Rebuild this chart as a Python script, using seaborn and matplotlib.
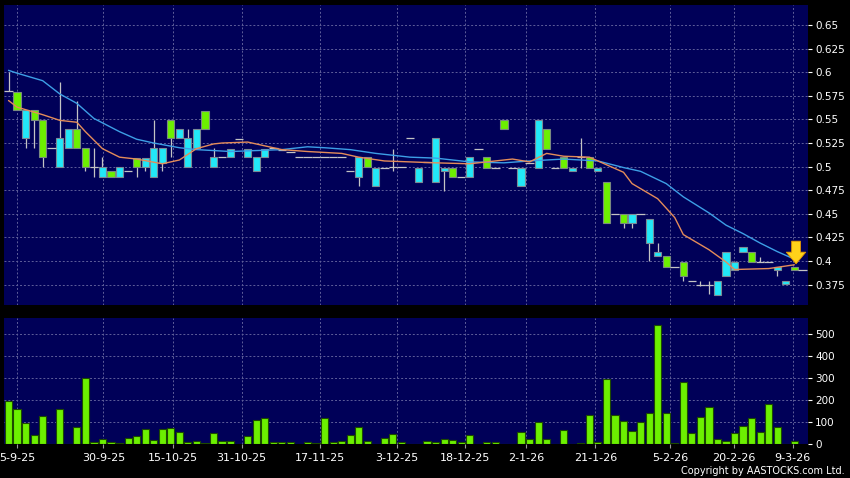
import numpy as np
import pandas as pd
import matplotlib
matplotlib.use("Agg")
import matplotlib.pyplot as plt
import seaborn as sns

# ========== Datos ==========

# precios diarios (slot = posicion en el eje)
opens = [0.580, 0.579, 0.530, 0.560, 0.549, 0.520, 0.500, 0.520, 0.540, 0.520,
         0.500, 0.489, 0.495, 0.489, 0.495, 0.509, 0.500, 0.489, 0.504, 0.549,
         0.530, 0.500, 0.520, 0.559, 0.500, 0.510, 0.510, 0.529, 0.510, 0.495,
         0.510, 0.520, 0.518, 0.515, 0.510, 0.510, 0.510, 0.510, 0.510, 0.510,
         0.495, 0.489, 0.510, 0.479, 0.499, 0.500, 0.500, 0.530, 0.484, 0.505,
         0.484, 0.495, 0.499, 0.489, 0.489, 0.519, 0.510, 0.499, 0.549, 0.499,
         0.479, 0.504, 0.499, 0.540, 0.499, 0.510, 0.495, 0.510, 0.510, 0.495,
         0.484, 0.450, 0.450, 0.440, 0.450, 0.419, 0.405, 0.405, 0.394, 0.399,
         0.379, 0.375, 0.375, 0.364, 0.384, 0.390, 0.410, 0.410, 0.399, 0.399,
         0.390, 0.376, 0.394]
highs = [0.600, 0.579, 0.560, 0.560, 0.549, 0.520, 0.590, 0.540, 0.570, 0.520,
         0.520, 0.510, 0.495, 0.500, 0.495, 0.509, 0.509, 0.549, 0.520, 0.549,
         0.540, 0.540, 0.540, 0.559, 0.520, 0.510, 0.519, 0.529, 0.519, 0.510,
         0.519, 0.520, 0.518, 0.515, 0.510, 0.510, 0.510, 0.510, 0.510, 0.510,
         0.495, 0.510, 0.510, 0.499, 0.499, 0.519, 0.500, 0.530, 0.499, 0.505,
         0.530, 0.499, 0.499, 0.489, 0.510, 0.519, 0.510, 0.499, 0.549, 0.499,
         0.499, 0.504, 0.549, 0.540, 0.499, 0.510, 0.499, 0.530, 0.510, 0.499,
         0.484, 0.450, 0.450, 0.450, 0.450, 0.445, 0.419, 0.405, 0.394, 0.399,
         0.379, 0.379, 0.379, 0.379, 0.410, 0.399, 0.415, 0.410, 0.404, 0.399,
         0.394, 0.379, 0.394]
lows = [0.580, 0.560, 0.520, 0.520, 0.500, 0.520, 0.500, 0.520, 0.520, 0.495,
        0.489, 0.489, 0.489, 0.489, 0.495, 0.489, 0.495, 0.489, 0.495, 0.510,
        0.530, 0.500, 0.520, 0.540, 0.500, 0.510, 0.510, 0.529, 0.510, 0.495,
        0.510, 0.520, 0.518, 0.515, 0.510, 0.510, 0.510, 0.510, 0.510, 0.510,
        0.495, 0.479, 0.500, 0.479, 0.499, 0.495, 0.500, 0.530, 0.484, 0.505,
        0.484, 0.474, 0.489, 0.489, 0.489, 0.519, 0.499, 0.499, 0.540, 0.499,
        0.479, 0.504, 0.499, 0.519, 0.499, 0.499, 0.495, 0.499, 0.499, 0.495,
        0.440, 0.450, 0.435, 0.435, 0.450, 0.400, 0.405, 0.394, 0.394, 0.379,
        0.379, 0.373, 0.365, 0.364, 0.384, 0.390, 0.410, 0.399, 0.399, 0.399,
        0.384, 0.376, 0.390]
closes = [0.580, 0.560, 0.560, 0.549, 0.510, 0.520, 0.530, 0.540, 0.520, 0.500,
          0.500, 0.500, 0.489, 0.500, 0.495, 0.500, 0.509, 0.520, 0.520, 0.530,
          0.540, 0.530, 0.540, 0.540, 0.510, 0.510, 0.519, 0.529, 0.519, 0.510,
          0.519, 0.520, 0.518, 0.515, 0.510, 0.510, 0.510, 0.510, 0.510, 0.510,
          0.495, 0.510, 0.500, 0.499, 0.499, 0.500, 0.500, 0.530, 0.499, 0.505,
          0.530, 0.499, 0.489, 0.489, 0.510, 0.519, 0.499, 0.499, 0.540, 0.499,
          0.499, 0.504, 0.549, 0.519, 0.499, 0.499, 0.499, 0.510, 0.499, 0.499,
          0.440, 0.450, 0.440, 0.450, 0.450, 0.445, 0.410, 0.394, 0.394, 0.384,
          0.379, 0.375, 0.375, 0.379, 0.410, 0.399, 0.415, 0.399, 0.399, 0.399,
          0.394, 0.379, 0.390]

# volumen (miles)
volumes = [194, 158, 94, 40, 127, 0, 158, 2, 79, 301,
           10, 24, 8, 3, 27, 36, 67, 18, 67, 73,
           53, 9, 12, 3, 49, 15, 14, 0, 35, 109,
           118, 8, 8, 8, 0, 8, 6, 118, 8, 12,
           41, 76, 15, 2, 27, 45, 8, 0, 2, 12,
           8, 21, 18, 8, 41, 0, 8, 8, 2, 0,
           55, 23, 102, 21, 0, 62, 2, 5, 130, 7,
           295, 130, 105, 61, 102, 141, 539, 139, 3, 282,
           48, 123, 170, 21, 12, 52, 80, 118, 53, 182,
           76, 2, 12]

# medias moviles
ma20_slots = [0, 1, 4, 6, 8, 10, 13, 15, 17, 20, 22, 26, 32, 35, 37, 40, 43, 47,
              50, 54, 58, 61, 65, 69, 72, 74, 77, 79, 82, 84, 86, 88, 90, 92]
ma20_vals = [0.602, 0.599, 0.591, 0.577, 0.567, 0.551, 0.537, 0.529, 0.525, 0.520,
             0.518, 0.516, 0.518, 0.521, 0.520, 0.518, 0.514, 0.510, 0.509, 0.505,
             0.504, 0.506, 0.508, 0.506, 0.499, 0.495, 0.482, 0.468, 0.451, 0.438,
             0.429, 0.419, 0.410, 0.402]
ma10_slots = [0, 1, 4, 6, 8, 9, 11, 13, 15, 18, 20, 22, 24, 25, 28, 32, 35, 39, 41,
              44, 47, 50, 54, 59, 61, 63, 65, 68, 70, 72, 73, 76, 78, 79, 82, 84,
              85, 89, 92]
ma10_vals = [0.570, 0.563, 0.555, 0.549, 0.547, 0.537, 0.519, 0.510, 0.508, 0.503,
             0.507, 0.519, 0.524, 0.525, 0.526, 0.518, 0.516, 0.514, 0.510, 0.506,
             0.505, 0.504, 0.503, 0.508, 0.505, 0.514, 0.511, 0.510, 0.502, 0.494,
             0.482, 0.466, 0.446, 0.428, 0.412, 0.399, 0.391, 0.392, 0.396]

date_labels = ["5-9-25", "30-9-25", "15-10-25", "31-10-25", "17-11-25", "3-12-25",
               "18-12-25", "2-1-26", "21-1-26", "5-2-26", "20-2-26", "9-3-26"]
date_pos = [1.0, 11.1, 19.2, 27.3, 36.5, 45.5, 53.5, 60.6, 68.7, 77.5, 84.9, 91.8]

price_ticks = [0.375, 0.4, 0.425, 0.45, 0.475, 0.5, 0.525, 0.55, 0.575, 0.6, 0.625, 0.65]
price_labels = ["0.375", "0.4", "0.425", "0.45", "0.475", "0.5", "0.525", "0.55",
                "0.575", "0.6", "0.625", "0.65"]
vol_ticks = [0, 100, 200, 300, 400, 500]

df = pd.DataFrame({"open": opens, "high": highs, "low": lows,
                   "close": closes, "volume": volumes})
df["slot"] = np.arange(len(df))

# ========== Estilo ==========

PANEL = "#000058"
GREEN = "#6cf000"
CYAN = "#22e8f8"
WICK = "#c4c4c4"
GRID = "#5e5e9a"

sns.set_style("dark", {"axes.facecolor": PANEL, "figure.facecolor": "black",
                       "axes.edgecolor": PANEL, "grid.color": GRID})
plt.rcParams["font.family"] = ["DejaVu Sans"]

fig = plt.figure(figsize=(8.5, 4.78), dpi=100)
W, H = 850, 478
ax1 = fig.add_axes([4 / W, 1 - 305 / H, 804 / W, 300 / H])
ax2 = fig.add_axes([4 / W, 1 - 444 / H, 804 / W, 126 / H], sharex=ax1)

# ---------- Velas ----------
up = df[df.close > df.open]
down = df[df.close < df.open]
doji = df[df.close == df.open]

ax1.vlines(df.slot, df.low, df.high, color=WICK, lw=0.9, zorder=2)
ax1.bar(up.slot, up.close - up.open, bottom=up.open, width=0.84,
        color=CYAN, edgecolor="#7a8a96", lw=0.8, zorder=3)
ax1.bar(down.slot, down.open - down.close, bottom=down.close, width=0.84,
        color=GREEN, edgecolor="#7a8a80", lw=0.8, zorder=3)
ax1.hlines(doji.close, doji.slot - 0.5, doji.slot + 0.5, color=WICK, lw=0.9, zorder=3)

# ultima cotizacion
last = df.iloc[-1]
ax1.hlines(last.close, last.slot + 0.45, last.slot + 1.5, color=WICK, lw=0.9, zorder=3)

# ---------- Medias moviles ----------
sns.lineplot(x=ma20_slots, y=ma20_vals, ax=ax1, color="#3d9fe6", lw=1, zorder=4)
sns.lineplot(x=ma10_slots, y=ma10_vals, ax=ax1, color="#e48c5a", lw=1, zorder=4)

# flecha amarilla
ax1.annotate("", xy=(last.slot + 0.2, last.close + 0.007),
             xytext=(last.slot + 0.2, last.close + 0.031),
             arrowprops=dict(arrowstyle="simple,head_width=1.0,head_length=0.6,tail_width=0.45",
                             mutation_scale=14, fc="#ffd21a", ec="#e89a00", lw=0.6,
                             shrinkA=0, shrinkB=0), zorder=6)

# ---------- Volumen ----------
sns.barplot(data=df, x="slot", y="volume", ax=ax2, native_scale=True, width=0.84,
            color=GREEN, saturation=1, edgecolor="#1d4a00", linewidth=0.8,
            errorbar=None, zorder=3)

# ========== Ejes ==========

ax1.set_xlim(-0.53, 93.6)
ax1.set_ylim(0.3534, 0.6712)
ax2.set_ylim(0, 573)

for ax in (ax1, ax2):
    ax.yaxis.tick_right()
    ax.set_xlabel("")
    ax.set_ylabel("")
    ax.grid(True, color=GRID, ls=(0, (2, 2)), lw=0.7)
    ax.set_axisbelow(True)
    for s in ax.spines.values():
        s.set_visible(False)
    ax.tick_params(axis="y", colors="white", labelcolor="white", labelsize=7.5,
                   length=3, width=0.8, pad=2, right=True, left=False)

ax1.set_yticks(price_ticks)
ax1.set_yticklabels(price_labels)
ax2.set_yticks(vol_ticks)
ax2.set_yticklabels([str(v) for v in vol_ticks])

ax2.set_xticks(date_pos)
ax2.set_xticklabels(date_labels)
ax2.tick_params(axis="x", colors="#9a9a9a", labelcolor="white", labelsize=8,
                length=3, pad=3.5, bottom=True)
ax1.tick_params(axis="x", labelbottom=False, length=0)
ax2.set_xlim(-0.53, 93.6)

fig.text(845 / W, 1 - 471 / H, "Copyright by AASTOCKS.com Ltd.", ha="right",
         va="center", color="white", fontsize=7)

fig.savefig("out.png", dpi=100, facecolor="black")
